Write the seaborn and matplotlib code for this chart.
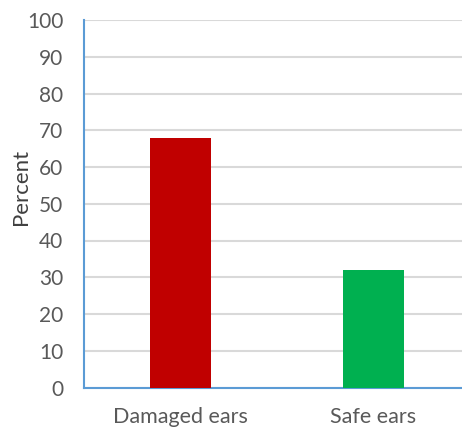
import matplotlib
matplotlib.use("Agg")
import matplotlib.pyplot as plt
import seaborn as sns
import pandas as pd

categories = ["Damaged ears", "Safe ears"]
percent = [68, 32]
bar_colors = ["#C00000", "#00B050"]
y_ticks = [0, 10, 20, 30, 40, 50, 60, 70, 80, 90, 100]

sns.set_theme(style="white")
plt.rcParams["font.family"] = ["Lato", "DejaVu Sans"]

df = pd.DataFrame({"category": categories, "percent": percent})

fig = plt.figure(figsize=(4.62, 4.32), dpi=100)
W, H = 462, 432
left, right, top, bottom = 84, 470, 20, 387.5
ax = fig.add_axes([left / W, 1 - bottom / H, (right - left) / W, (bottom - top) / H])

sns.barplot(data=df, x="category", y="percent", hue="category",
            palette=bar_colors, width=0.316, legend=False, ax=ax,
            saturation=1, linewidth=0, zorder=3)

ax.set_ylim(0, 100)
ax.set_xlim(-0.5, 1.5)
ax.set_yticks(y_ticks)
ax.yaxis.grid(True, color="#D9D9D9", linewidth=1.5, zorder=0)
ax.set_axisbelow(True)

for side in ["top", "right"]:
    ax.spines[side].set_visible(False)
for side in ["left", "bottom"]:
    ax.spines[side].set_color("#5B9BD5")
    ax.spines[side].set_linewidth(1.5)

ax.tick_params(axis="y", length=0, pad=15, labelsize=15, labelcolor="#595959")
ax.tick_params(axis="x", length=0, pad=14, labelsize=15.5, labelcolor="#595959")
ax.set_xlabel("")
ax.set_ylabel("Percent", fontsize=16, color="#404040", va="center")
ax.yaxis.set_label_coords(-0.163, 0.545)

fig.savefig("out.png", dpi=100, facecolor="white")
